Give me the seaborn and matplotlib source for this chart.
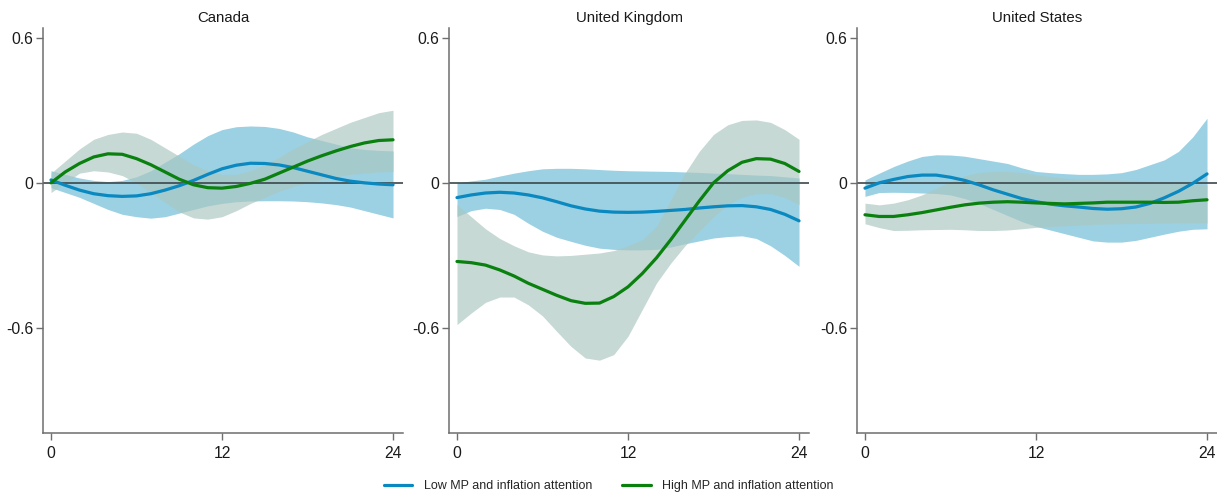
import numpy as np
import pandas as pd
import matplotlib
matplotlib.use("Agg")
import matplotlib.pyplot as plt
import seaborn as sns

horizons = list(range(25))
countries = ["Canada", "United Kingdom", "United States"]
series_names = ["Low MP and inflation attention", "High MP and inflation attention"]

# Canada
ca_low = [0.012, -0.01, -0.03, -0.045, -0.053, -0.056, -0.054, -0.045, -0.03, -0.012, 0.01, 0.035, 0.058,
          0.073, 0.081, 0.08, 0.074, 0.063, 0.048, 0.033, 0.018, 0.007, 0.0, -0.005, -0.008]
ca_low_hi = [0.05, 0.035, 0.02, 0.01, 0.005, 0.01, 0.025, 0.05, 0.085, 0.12, 0.16, 0.195, 0.22,
             0.232, 0.235, 0.233, 0.225, 0.21, 0.19, 0.175, 0.16, 0.145, 0.138, 0.134, 0.132]
ca_low_lo = [-0.02, -0.04, -0.06, -0.085, -0.11, -0.13, -0.14, -0.146, -0.14, -0.125, -0.11, -0.095, -0.085,
             -0.078, -0.075, -0.074, -0.074, -0.075, -0.078, -0.083, -0.09, -0.1, -0.115, -0.13, -0.145]
ca_high = [0.0, 0.045, 0.08, 0.107, 0.12, 0.118, 0.1, 0.075, 0.045, 0.015, -0.008, -0.02, -0.022,
           -0.015, -0.002, 0.015, 0.04, 0.065, 0.09, 0.112, 0.132, 0.15, 0.165, 0.175, 0.178]
ca_high_hi = [0.04, 0.09, 0.14, 0.18, 0.2, 0.21, 0.205, 0.18, 0.145, 0.11, 0.075, 0.05, 0.035,
              0.035, 0.05, 0.075, 0.105, 0.14, 0.17, 0.2, 0.225, 0.25, 0.27, 0.29, 0.3]
ca_high_lo = [-0.04, 0.0, 0.04, 0.05, 0.045, 0.03, 0.0, -0.04, -0.08, -0.12, -0.145, -0.15, -0.14,
              -0.115, -0.085, -0.06, -0.035, -0.015, 0.0, 0.015, 0.025, 0.035, 0.04, 0.045, 0.047]

# United Kingdom
uk_low = [-0.061, -0.05, -0.042, -0.039, -0.042, -0.05, -0.062, -0.078, -0.095, -0.108, -0.117, -0.121, -0.122,
          -0.121, -0.118, -0.114, -0.11, -0.104, -0.099, -0.095, -0.094, -0.099, -0.11, -0.13, -0.157]
uk_low_hi = [0.0, 0.008, 0.015, 0.028, 0.04, 0.05, 0.058, 0.06, 0.06, 0.058, 0.055, 0.052, 0.05,
             0.049, 0.048, 0.047, 0.045, 0.043, 0.04, 0.038, 0.035, 0.032, 0.03, 0.025, 0.02]
uk_low_lo = [-0.139, -0.115, -0.105, -0.11, -0.13, -0.167, -0.2, -0.225, -0.242, -0.258, -0.27, -0.275, -0.277,
             -0.277, -0.275, -0.265, -0.252, -0.24, -0.228, -0.222, -0.219, -0.23, -0.26, -0.3, -0.345]
uk_high = [-0.325, -0.33, -0.34, -0.36, -0.385, -0.415, -0.44, -0.465, -0.487, -0.498, -0.497, -0.47, -0.43,
           -0.375, -0.31, -0.235, -0.155, -0.075, 0.0, 0.05, 0.085, 0.1, 0.098, 0.08, 0.047]
uk_high_hi = [-0.09, -0.14, -0.19, -0.23, -0.26, -0.285, -0.298, -0.302, -0.3, -0.295, -0.29, -0.28, -0.26,
              -0.235, -0.18, -0.07, 0.04, 0.13, 0.2, 0.24, 0.258, 0.26, 0.25, 0.22, 0.18]
uk_high_lo = [-0.586, -0.538, -0.494, -0.472, -0.472, -0.504, -0.55, -0.614, -0.676, -0.724, -0.733, -0.71, -0.634,
              -0.524, -0.414, -0.332, -0.26, -0.2, -0.14, -0.09, -0.06, -0.045, -0.045, -0.06, -0.09]

# United States
us_low = [-0.022, 0.0, 0.014, 0.026, 0.032, 0.032, 0.023, 0.01, -0.008, -0.029, -0.047, -0.065, -0.078,
          -0.088, -0.095, -0.1, -0.106, -0.109, -0.107, -0.1, -0.085, -0.062, -0.035, -0.002, 0.037]
us_low_hi = [0.012, 0.04, 0.067, 0.09, 0.109, 0.116, 0.115, 0.11, 0.1, 0.09, 0.08, 0.062, 0.047,
             0.042, 0.038, 0.035, 0.035, 0.037, 0.042, 0.055, 0.075, 0.095, 0.13, 0.19, 0.267]
us_low_lo = [-0.056, -0.04, -0.039, -0.04, -0.042, -0.044, -0.05, -0.065, -0.085, -0.11, -0.135, -0.16, -0.18,
             -0.195, -0.21, -0.225, -0.24, -0.245, -0.245, -0.238, -0.225, -0.212, -0.2, -0.192, -0.19]
us_high = [-0.132, -0.139, -0.139, -0.132, -0.123, -0.112, -0.101, -0.091, -0.084, -0.08, -0.078, -0.08, -0.083,
           -0.085, -0.087, -0.085, -0.083, -0.08, -0.08, -0.08, -0.08, -0.081, -0.08, -0.074, -0.07]
us_high_hi = [-0.084, -0.091, -0.084, -0.07, -0.05, -0.022, 0.005, 0.029, 0.043, 0.047, 0.047, 0.043, 0.033,
              0.026, 0.019, 0.016, 0.015, 0.013, 0.012, 0.01, 0.006, 0.003, -0.001, -0.005, -0.008]
us_high_lo = [-0.169, -0.185, -0.197, -0.196, -0.194, -0.193, -0.192, -0.194, -0.197, -0.197, -0.195, -0.19, -0.184,
              -0.18, -0.178, -0.175, -0.172, -0.17, -0.169, -0.168, -0.168, -0.167, -0.166, -0.166, -0.166]

x_ticks = [0, 12, 24]
x_tick_labels = ["0", "12", "24"]
y_ticks = [0.6, 0, -0.6]
y_tick_labels = ["0.6", "0", "-0.6"]

data = {
    "Canada": (ca_low, ca_low_lo, ca_low_hi, ca_high, ca_high_lo, ca_high_hi),
    "United Kingdom": (uk_low, uk_low_lo, uk_low_hi, uk_high, uk_high_lo, uk_high_hi),
    "United States": (us_low, us_low_lo, us_low_hi, us_high, us_high_lo, us_high_hi),
}

rows = []
for c in countries:
    low, low_lo, low_hi, high, high_lo, high_hi = data[c]
    for h in horizons:
        rows.append(dict(country=c, horizon=h, series=series_names[0], value=low[h], lo=low_lo[h], hi=low_hi[h]))
        rows.append(dict(country=c, horizon=h, series=series_names[1], value=high[h], lo=high_lo[h], hi=high_hi[h]))
df = pd.DataFrame(rows)

sns.set_theme(style="white")
plt.rcParams["font.family"] = ["Liberation Sans", "DejaVu Sans"]

line_colors = {series_names[0]: "#0a88c0", series_names[1]: "#0a800f"}
band_colors = {series_names[0]: ("#9bd1e3", 1.0), series_names[1]: ("#abc7c1", 0.68)}

W, H = 1217, 492
fig = plt.figure(figsize=(W / 100, H / 100), dpi=100)
lefts = [43, 449, 857]
ax_w = 360
bottom_px = 433
top_px = 28

axes = []
for i, c in enumerate(countries):
    ax = fig.add_axes([lefts[i] / W, 1 - bottom_px / H, ax_w / W, (bottom_px - top_px) / H])
    axes.append(ax)
    sub = df[df.country == c]
    for s in series_names:
        ss = sub[sub.series == s]
        col, a = band_colors[s]
        ax.fill_between(ss.horizon, ss.lo, ss.hi, color=col, alpha=a, linewidth=0, zorder=1)
    ax.axhline(0, color="#3c474b", linewidth=1.2, zorder=2)
    sns.lineplot(data=sub, x="horizon", y="value", hue="series", hue_order=series_names,
                 palette=line_colors, linewidth=2.3, ax=ax, legend=(i == 0), zorder=3)
    ax.set_xlim(-0.56, 24.7)
    ax.set_ylim(-1.034, 0.64)
    ax.set_xticks(x_ticks)
    ax.set_xticklabels(x_tick_labels)
    ax.set_yticks(y_ticks)
    ax.set_yticklabels(y_tick_labels)
    ax.set_xlabel("")
    ax.set_ylabel("")
    ax.set_title(c, fontsize=10.8, pad=4.5, color="#1a1a1a")
    for side in ["top", "right"]:
        ax.spines[side].set_visible(False)
    for side in ["left", "bottom"]:
        ax.spines[side].set_color("#6e6e6e")
        ax.spines[side].set_linewidth(1.1)
    ax.tick_params(axis="both", which="major", direction="out", length=5, width=1.0,
                   color="#6e6e6e", labelsize=11.3, labelcolor="#1a1a1a",
                   bottom=True, left=True)
    ax.tick_params(axis="y", pad=2)
    ax.tick_params(axis="x", pad=4)

handles, labels = axes[0].get_legend_handles_labels()
axes[0].get_legend().remove()
fig.legend(handles, labels, loc="lower center", bbox_to_anchor=(0.5, -0.023), ncol=2,
           frameon=False, fontsize=9, handlelength=2.3, columnspacing=2.4, handletextpad=0.9)

fig.savefig("out.png", dpi=100)
